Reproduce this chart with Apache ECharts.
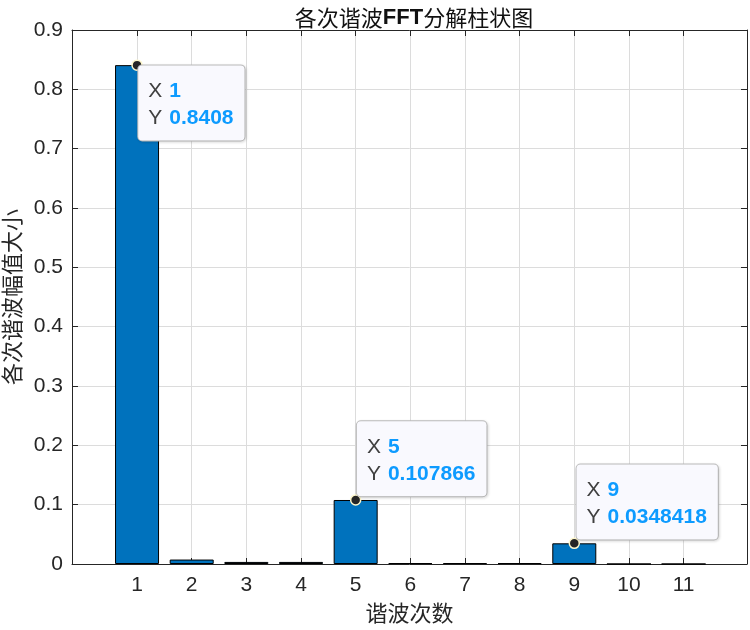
<!DOCTYPE html>
<html>
<head>
<meta charset="utf-8">
<title>各次谐波FFT分解柱状图</title>
<script src="https://cdn.jsdelivr.net/npm/echarts@6/dist/echarts.min.js"></script>
<style>
  html, body { margin: 0; padding: 0; background: #fff; }
  #main { width: 750px; height: 630px; }
</style>
</head>
<body>
<div id="main"></div>
<script>
// 谐波次数和幅值
var harmonics = [1, 2, 3, 4, 5, 6, 7, 8, 9, 10, 11];
var amplitudes = [0.8408, 0.0075, 0.0035, 0.0035, 0.107866, 0.0015, 0.0015, 0.0015, 0.0348418, 0, 0];
var xTicks = [1, 2, 3, 4, 5, 6, 7, 8, 9, 10, 11];
var yTicks = [0, 0.1, 0.2, 0.3, 0.4, 0.5, 0.6, 0.7, 0.8, 0.9];
// data tips shown on the figure
var tipX = [1, 5, 9];
var tipY = ['0.8408', '0.107866', '0.0348418'];

var latin = '"Liberation Sans", Arial, sans-serif';
var cjk = '"Noto Sans CJK SC", sans-serif';
var axisColor = '#262626';
var gridColor = '#dcdcdc';

var chart = echarts.init(document.getElementById('main'));

var barData = harmonics.map(function (h, i) { return [h, amplitudes[i]]; });

// tip 1 hangs below-right of its point, the others sit above-right
var tipOffsets = [[7, 6], [7, -73], [8, -73]];
var tips = tipX.map(function (x, i) {
  return {
    coord: [x, amplitudes[harmonics.indexOf(x)]],
    label: {
      position: tipOffsets[i],
      formatter: '{k|X}{v|' + x + '}\n{k|Y}{v|' + tipY[i] + '}'
    }
  };
});

var boxAxis = function (extra) {
  return Object.assign({
    axisLine: { show: true, onZero: false, lineStyle: { color: axisColor, width: 1 } },
    axisTick: { show: true, inside: true, length: 6, lineStyle: { color: axisColor } }
  }, extra);
};

var option = {
  backgroundColor: '#fff',
  animation: false,
  title: {
    text: '{c|各次谐波}{b|FFT}{c|分解柱状图}',
    left: 409, top: 2, textAlign: 'center',
    textStyle: {
      fontWeight: 'normal',
      rich: {
        c: { fontFamily: cjk, fontSize: 22, fontWeight: 'normal', color: '#111' },
        b: { fontFamily: latin, fontSize: 22, fontWeight: 'bold', color: '#111' }
      }
    }
  },
  grid: { left: 72, right: 3, top: 30, bottom: 66, outerBoundsMode: 'none' },
  xAxis: [boxAxis({
    type: 'value', min: -0.19, max: 12.16,
    name: '谐波次数', nameLocation: 'middle', nameGap: 38,
    nameTextStyle: { fontFamily: cjk, fontSize: 22, color: axisColor },
    axisTick: { show: true, inside: true, length: 6, customValues: xTicks, lineStyle: { color: axisColor } },
    axisLabel: { customValues: xTicks, fontFamily: latin, fontSize: 21, color: axisColor, margin: 11 },
    splitLine: { show: true, lineStyle: { color: gridColor, width: 1 } }
  }), boxAxis({
    type: 'value', min: -0.19, max: 12.16, position: 'top',
    axisTick: { show: true, inside: true, length: 6, customValues: xTicks, lineStyle: { color: axisColor } },
    axisLabel: { show: false }, splitLine: { show: false }
  })],
  yAxis: [boxAxis({
    type: 'value', min: yTicks[0], max: yTicks[yTicks.length - 1], interval: 0.1,
    name: '各次谐波幅值大小', nameLocation: 'middle', nameGap: 46,
    nameTextStyle: { fontFamily: cjk, fontSize: 22, color: axisColor },
    axisLabel: {
      formatter: function (v) { return String(Math.round(v * 10) / 10); },
      fontFamily: latin, fontSize: 21, color: axisColor, margin: 9
    },
    splitLine: { show: true, lineStyle: { color: gridColor, width: 1 } }
  }), boxAxis({
    type: 'value', min: yTicks[0], max: yTicks[yTicks.length - 1], interval: 0.1, position: 'right',
    axisLabel: { show: false }, splitLine: { show: false }
  })],
  series: [{
    type: 'bar',
    data: barData,
    barWidth: 44,
    itemStyle: { color: '#0072BD', borderColor: '#000', borderWidth: 1 },
    markPoint: {
      symbol: 'circle',
      symbolSize: 10,
      itemStyle: { color: '#262626', borderColor: '#fff8cc', borderWidth: 1.5 },
      label: {
        show: true,
        align: 'left',
        verticalAlign: 'top',
        backgroundColor: '#f9f9fe',
        borderColor: '#bfbfbf',
        borderWidth: 1,
        borderRadius: 4,
        padding: [12, 11, 9, 10],
        shadowColor: 'rgba(0,0,0,0.12)',
        shadowBlur: 3,
        shadowOffsetX: 1,
        shadowOffsetY: 1,
        rich: {
          k: { fontFamily: latin, fontSize: 21, color: '#404040', lineHeight: 27, padding: [0, 7, 0, 0] },
          v: { fontFamily: latin, fontSize: 21, fontWeight: 'bold', color: '#0d9bff', lineHeight: 27 }
        }
      },
      data: tips
    }
  }]
};

chart.setOption(option);
</script>
</body>
</html>
